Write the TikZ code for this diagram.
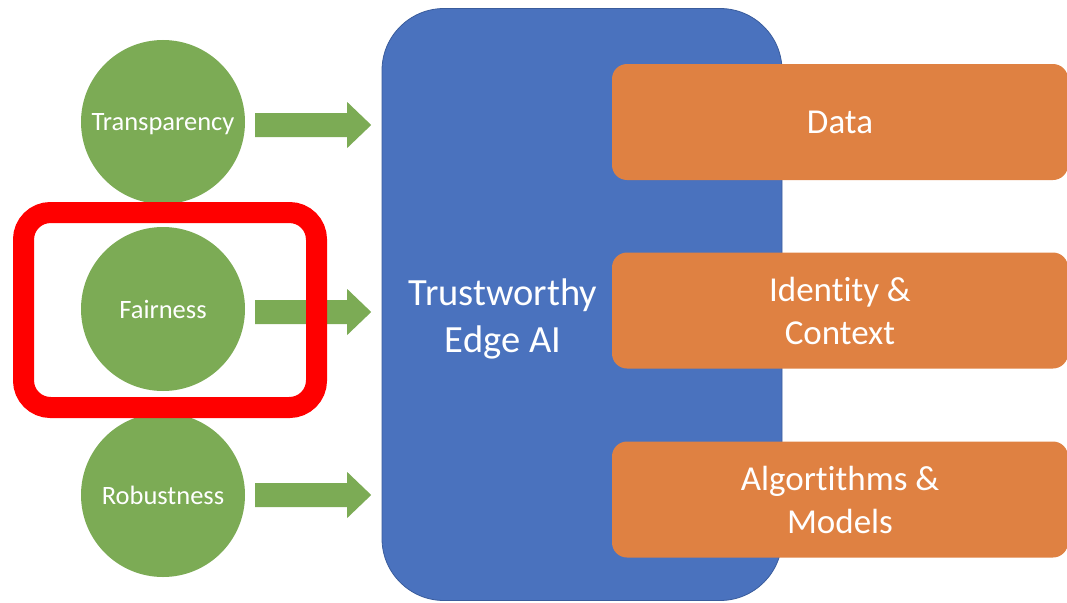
\documentclass[tikz,border=0pt]{standalone}
\usepackage{fontspec}
\setmainfont[Ligatures=NoCommon]{Carlito}
\usetikzlibrary{calc}
\definecolor{leafgreen}{HTML}{7CAB55}
\definecolor{coreblue}{HTML}{4A72BE}
\definecolor{coreedge}{HTML}{3A5C9C}
\definecolor{ochre}{HTML}{DF8142}
\definecolor{marker}{HTML}{FF0000}
\begin{document}
\begin{tikzpicture}[x=1pt,y=-1pt,
  pillar/.style={circle, fill=leafgreen, minimum size=164pt, inner sep=0pt,
    text=white, text depth=0pt, font=\fontsize{26.5}{31}\selectfont},
  flow/.style={fill=leafgreen},
  core/.style={draw=coreedge, line width=0.8pt, fill=coreblue, rounded corners=62pt,
    minimum width=400pt, minimum height=592pt, inner sep=0pt},
  corelabel/.style={text=white, align=center, font=\fontsize{38.5}{47}\selectfont},
  part/.style={fill=ochre, rounded corners=15pt, minimum width=456pt,
    minimum height=116pt, inner sep=0pt, text=white, align=center,
    font=\fontsize{35}{43}\selectfont},
  highlight/.style={draw=marker, line width=21pt, rounded corners=27pt,
    minimum width=293pt, minimum height=195pt, inner sep=0pt}]
\useasboundingbox (0,0) rectangle (1067,602);

% central block and its three components
\node[core] (core) at (582,304.5) {};
\node[corelabel] (title) at (503,319) {Trustworthy\\Edge AI};
\node[part] (data) at (840,122) {Data};
\node[part] (ident) at (840,310.5) {Identity \&\\Context};
\node[part] (algo) at (840,499.5) {Algortithms \&\\Models};

% the three pillars on the left
\node[pillar] (tr) at (163,122) {Transparency};
\node[pillar] (fa) at (163,309) {Fairness};
\node[pillar] (ro) at (163,495) {Robustness};

% block arrows from the pillars towards the central block
\foreach \n/\dy in {tr/3,fa/3,ro/0}
  \fill[flow] ($(\n.east)+(10,\dy-12)$) -- ++(92,0) -- ++(0,-11) -- ++(24,23)
    -- ++(-24,23) -- ++(0,-11) -- ++(-92,0) -- cycle;

% highlight frame round the fairness pillar
\node[highlight] (mark) at (170,310) {};
\end{tikzpicture}
\end{document}
